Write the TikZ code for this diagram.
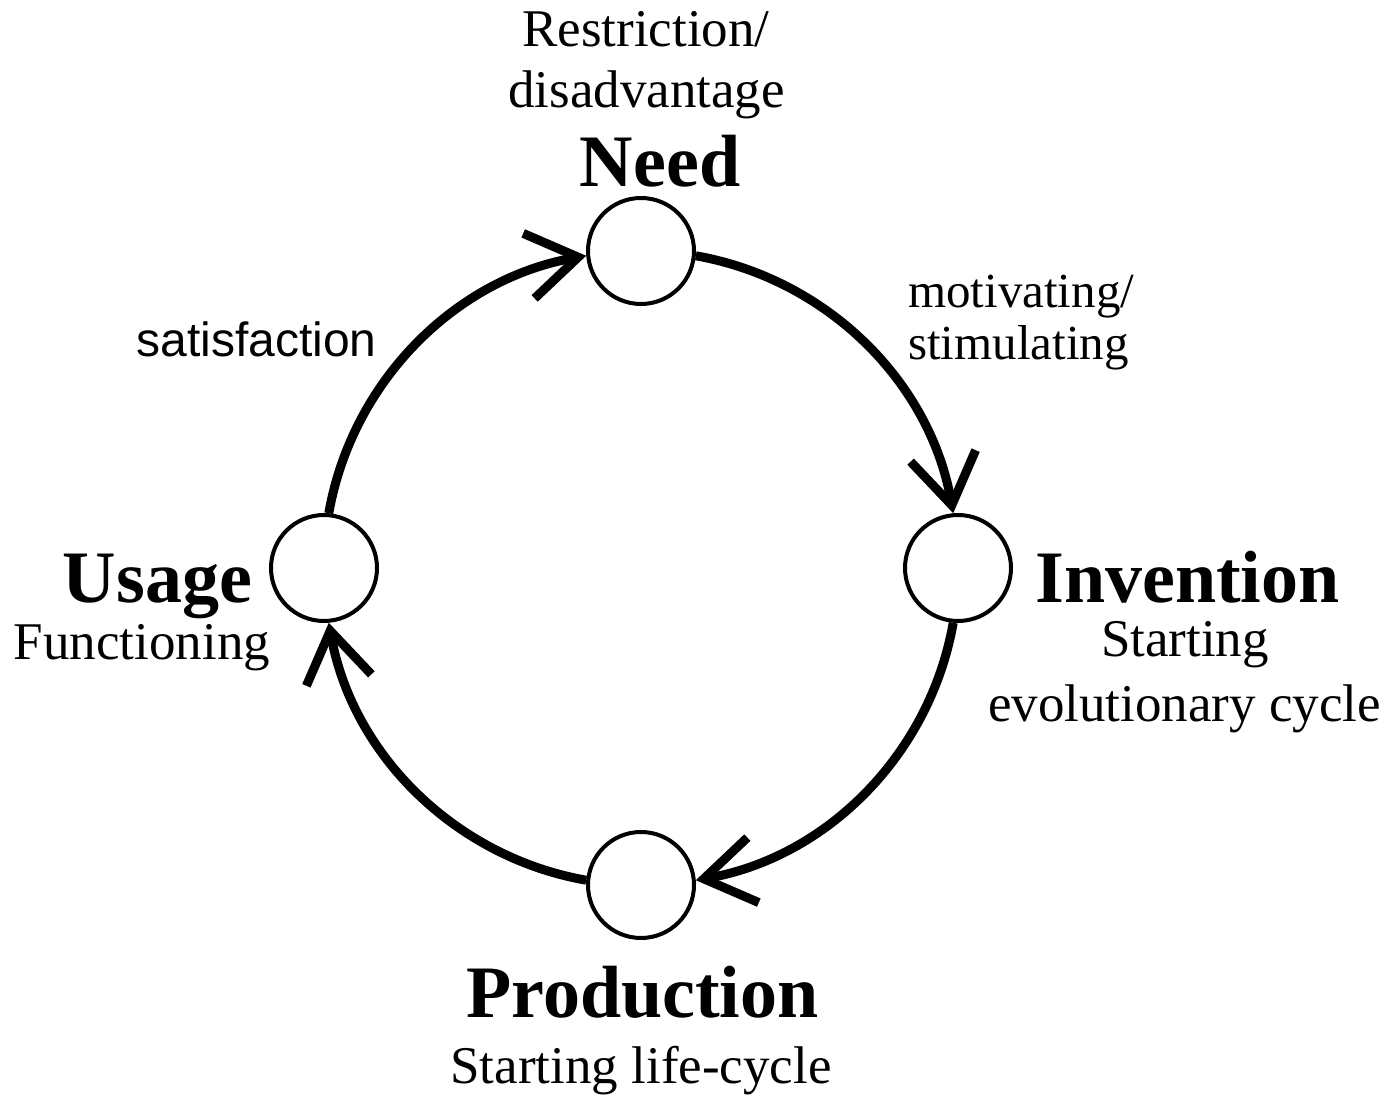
\documentclass[tikz,border=0pt]{standalone}
\usepackage{fontspec}
\setmainfont{Liberation Serif}
\newfontfamily\sansf{Liberation Sans}
\usetikzlibrary{arrows.meta}
\tikzset{
  stage/.style={circle, draw, line width=4pt, minimum size=106pt, inner sep=0pt, fill=white},
  flow/.style={line width=9pt, -{Straight Barb[length=50pt, width=66pt, sharp]}},
  bigtxt/.style={font=\fontsize{74}{80}\selectfont\bfseries, inner sep=0pt, anchor=base},
  smalltxt/.style={font=\fontsize{53}{60}\selectfont, inner sep=0pt, anchor=base},
  midtxt/.style={font=\fontsize{49}{56}\selectfont, inner sep=0pt, anchor=base west},
  sanstxt/.style={font=\sansf\fontsize{48}{54}\selectfont, inner sep=0pt, anchor=base},
}
\begin{document}
\begin{tikzpicture}[x=1pt,y=1pt]
\useasboundingbox (0,0) rectangle (1393,1096);
% stages
\node[stage] (need) at (641,845) {};
\node[stage] (inv)  at (958,528) {};
\node[stage] (prod) at (641,211) {};
\node[stage] (use)  at (324,528) {};
% arcs
\draw[flow] (need.-5) to[out=-10, in=100, looseness=0.936] (inv.95);
\draw[flow] (inv.265) to[out=-100, in=10, looseness=0.936] (prod.5);
\draw[flow] (prod.175) to[out=170, in=-80, looseness=0.936] (use.-85);
\draw[flow] (use.85) to[out=80, in=190, looseness=0.936] (need.185);
% labels
\node[smalltxt] (restr) at (646,1049) {Restriction/};
\node[smalltxt] (disad) at (646.5,988) {disadvantage};
\node[bigtxt] (needl) at (660,909) {Need};
\node[midtxt] (motiv) at (908,788) {motivating/};
\node[midtxt] (stim) at (908,736) {stimulating};
\node[sanstxt] (satis) at (256.5,739) {satisfaction};
\node[bigtxt] (invl) at (1187.5,493) {Invention};
\node[smalltxt] (start1) at (1185,439) {Starting};
\node[smalltxt] (evol) at (1184.5,374) {evolutionary cycle};
\node[bigtxt] (usel) at (157.5,493) {Usage};
\node[smalltxt] (func) at (142,436) {Functioning};
\node[bigtxt] (prodl) at (642.5,79) {Production};
\node[smalltxt] (start2) at (641,13) {Starting life-cycle};
\end{tikzpicture}
\end{document}
